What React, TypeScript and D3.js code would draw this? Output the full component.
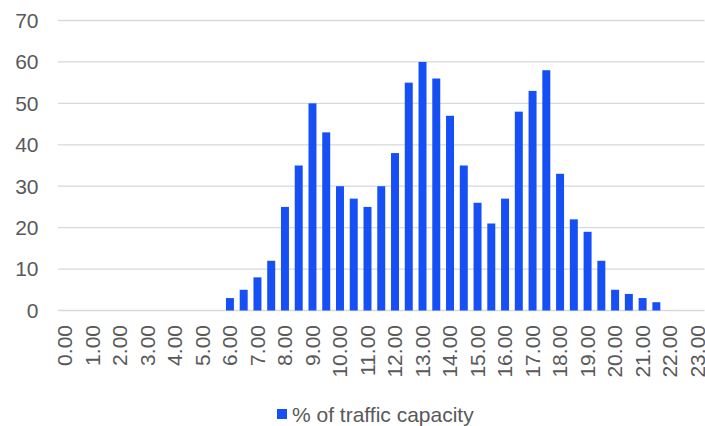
import React from "react";
import * as d3 from "d3";

const categories: string[] = [
  "0.00","0.30","1.00","1.30","2.00","2.30","3.00","3.30","4.00","4.30","5.00","5.30",
  "6.00","6.30","7.00","7.30","8.00","8.30","9.00","9.30","10.00","10.30","11.00","11.30",
  "12.00","12.30","13.00","13.30","14.00","14.30","15.00","15.30","16.00","16.30","17.00","17.30",
  "18.00","18.30","19.00","19.30","20.00","20.30","21.00","21.30","22.00","22.30","23.00",
];
const values: number[] = [
  0,0,0,0,0,0,0,0,0,0,0,0,
  3,5,8,12,25,35,50,43,30,27,25,30,
  38,55,60,56,47,35,26,21,27,48,53,58,
  33,22,19,12,5,4,3,2,0,0,0,
];
const tickLabels: string[] = [
  "0.00","1.00","2.00","3.00","4.00","5.00","6.00","7.00","8.00","9.00","10.00","11.00",
  "12.00","13.00","14.00","15.00","16.00","17.00","18.00","19.00","20.00","21.00","22.00","23.00",
];
const yTicks: number[] = [0, 10, 20, 30, 40, 50, 60, 70];
const seriesName = "% of traffic capacity";

const W = 705, H = 426;
const left = 58, right = 704.5, top = 20.5, bottom = 310.5;
const BLUE = "#1650F5";
const TEXT = "#595959";
const FONT = "'Liberation Sans', Arial, sans-serif";

export default function App() {
  const x = d3.scaleBand<string>().domain(categories).range([left, right]).paddingInner(0.42).paddingOuter(0.21);
  const y = d3.scaleLinear().domain([0, 70]).range([bottom, top]);
  return (
    <svg width={W} height={H} style={{ position: "absolute", left: 0, top: 0 }} fontFamily={FONT}>
      <rect width={W} height={H} fill="#fff" />
      {yTicks.map((t) => (
        <g key={t}>
          <line x1={left} x2={right} y1={y(t)} y2={y(t)} stroke="#d9d9d9" strokeWidth={1.3} />
          <text x={38.5} y={y(t)} dy="0.35em" textAnchor="end" fontSize={21} fill={TEXT}>{t}</text>
        </g>
      ))}
      {categories.map((c, i) =>
        values[i] > 0 ? (
          <rect key={c} x={x(c)} y={y(values[i])} width={x.bandwidth()} height={y(0) - y(values[i])} fill={BLUE} />
        ) : null
      )}
      {tickLabels.map((l) => {
        const cx = (x(l) ?? 0) + x.bandwidth() / 2;
        return (
          <text key={l} transform={`translate(${cx},325) rotate(-90)`} textAnchor="end" dy="0.35em" fontSize={21} fill={TEXT}>{l}</text>
        );
      })}
      <rect x={277} y={409} width={10} height={10} fill={BLUE} />
      <text x={292} y={414.5} dy="0.35em" fontSize={21} fill={TEXT}>{seriesName}</text>
    </svg>
  );
}
